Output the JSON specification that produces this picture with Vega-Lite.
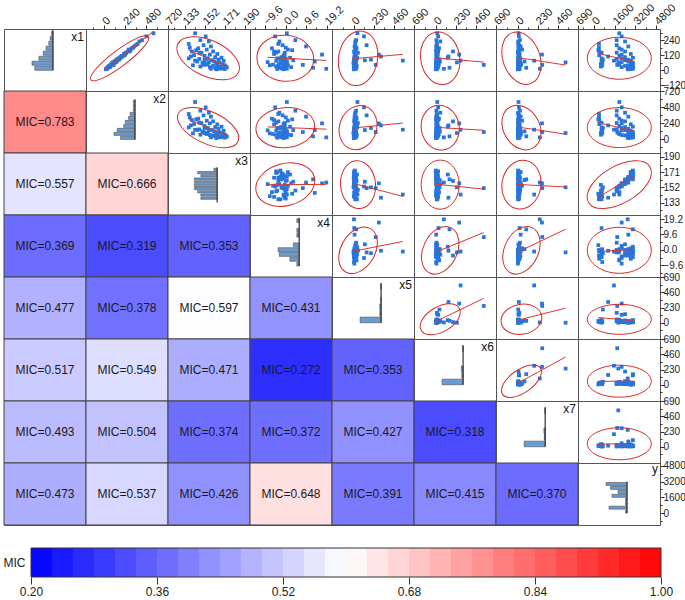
{
"$schema":"https://vega.github.io/schema/vega-lite/v6.json",
"background":"white",
"padding":{"left":3,"top":0,"right":0,"bottom":0},
"config":{"view":{"stroke":"#555","strokeWidth":1},"legend":{"disable":true},
"axis":{"labelFont":"Liberation Sans","labelFontSize":11,"labelColor":"#222","tickColor":"#333","domainColor":"#333","labelFlush":false,"labelOverlap":false,"labelBound":false,"grid":false,"tickSize":4,"labelPadding":2,"domain":false},
"axisRight":{"labelFontSize":10,"labelPadding":-1}},
"datasets":{"obs":[
{"x1":210,"x2":380,"x3":137,"x4":-3.5,"x5":20,"x6":15,"x7":8,"y":400},
{"x1":180,"x2":330,"x3":138,"x4":0,"x5":30,"x6":22,"x7":14,"y":400},
{"x1":150,"x2":290,"x3":140,"x4":-5.5,"x5":10,"x6":30,"x7":10,"y":420},
{"x1":120,"x2":230,"x3":142,"x4":-1,"x5":18,"x6":10,"x7":20,"y":420},
{"x1":95,"x2":180,"x3":137,"x4":-2.5,"x5":40,"x6":20,"x7":12,"y":600},
{"x1":70,"x2":140,"x3":145,"x4":13.6,"x5":8,"x6":35,"x7":24,"y":600},
{"x1":140,"x2":250,"x3":147,"x4":-4.5,"x5":12,"x6":12,"x7":6,"y":600},
{"x1":60,"x2":120,"x3":150,"x4":0.5,"x5":25,"x6":28,"x7":32,"y":650},
{"x1":40,"x2":90,"x3":141,"x4":-7.5,"x5":5,"x6":8,"x7":4,"y":650},
{"x1":110,"x2":210,"x3":139,"x4":-0.5,"x5":314,"x6":148,"x7":16,"y":1100},
{"x1":85,"x2":170,"x3":152,"x4":-2,"x5":200,"x6":45,"x7":8,"y":700},
{"x1":160,"x2":300,"x3":144,"x4":3,"x5":22,"x6":5,"x7":18,"y":350},
{"x1":30,"x2":70,"x3":148,"x4":-4,"x5":35,"x6":25,"x7":10,"y":550},
{"x1":50,"x2":100,"x3":155,"x4":-0.5,"x5":3,"x6":10,"x7":40,"y":550},
{"x1":295,"x2":560,"x3":143,"x4":0.5,"x5":45,"x6":20,"x7":12,"y":1960},
{"x1":270,"x2":480,"x3":153,"x4":-5,"x5":120,"x6":30,"x7":16,"y":2140},
{"x1":240,"x2":430,"x3":148,"x4":4.5,"x5":30,"x6":10,"x7":28,"y":1760},
{"x1":230,"x2":400,"x3":156,"x4":-3,"x5":20,"x6":55,"x7":8,"y":2400},
{"x1":200,"x2":360,"x3":151,"x4":-1.5,"x5":150,"x6":15,"x7":20,"y":1760},
{"x1":190,"x2":340,"x3":158,"x4":9.5,"x5":12,"x6":8,"x7":36,"y":2650},
{"x1":175,"x2":310,"x3":146,"x4":-6.5,"x5":35,"x6":40,"x7":10,"y":1960},
{"x1":165,"x2":280,"x3":154,"x4":1,"x5":22,"x6":18,"x7":52,"y":2140},
{"x1":150,"x2":270,"x3":160,"x4":-3.5,"x5":10,"x6":200,"x7":12,"y":2400},
{"x1":140,"x2":245,"x3":149,"x4":-0.5,"x5":50,"x6":12,"x7":6,"y":1760},
{"x1":130,"x2":225,"x3":164,"x4":-5.5,"x5":18,"x6":25,"x7":24,"y":2840},
{"x1":125,"x2":240,"x3":157,"x4":17,"x5":290,"x6":271,"x7":280,"y":2140},
{"x1":115,"x2":200,"x3":152,"x4":-1,"x5":28,"x6":22,"x7":14,"y":1960},
{"x1":105,"x2":185,"x3":162,"x4":-2,"x5":8,"x6":10,"x7":8,"y":2400},
{"x1":100,"x2":190,"x3":168,"x4":2,"x5":40,"x6":140,"x7":18,"y":3000},
{"x1":95,"x2":170,"x3":155,"x4":-4,"x5":15,"x6":15,"x7":32,"y":2140},
{"x1":90,"x2":150,"x3":147,"x4":0,"x5":22,"x6":32,"x7":6,"y":1760},
{"x1":85,"x2":160,"x3":165,"x4":-2.5,"x5":5,"x6":8,"x7":22,"y":2650},
{"x1":80,"x2":140,"x3":159,"x4":3.5,"x5":130,"x6":20,"x7":10,"y":2400},
{"x1":77,"x2":145,"x3":143,"x4":-1,"x5":564,"x6":287,"x7":190,"y":1550},
{"x1":75,"x2":130,"x3":170,"x4":-4.5,"x5":12,"x6":12,"x7":12,"y":2840},
{"x1":70,"x2":120,"x3":161,"x4":0.5,"x5":30,"x6":50,"x7":80,"y":2650},
{"x1":65,"x2":135,"x3":156,"x4":-8.5,"x5":10,"x6":10,"x7":4,"y":2140},
{"x1":63,"x2":95,"x3":152,"x4":-1.5,"x5":0,"x6":245,"x7":550,"y":1880},
{"x1":60,"x2":110,"x3":166,"x4":-0.5,"x5":20,"x6":28,"x7":16,"y":3000},
{"x1":55,"x2":100,"x3":163,"x4":-3,"x5":18,"x6":5,"x7":26,"y":2840},
{"x1":12,"x2":30,"x3":158,"x4":19,"x5":5,"x6":96,"x7":255,"y":2600},
{"x1":48,"x2":90,"x3":169,"x4":-1.5,"x5":8,"x6":18,"x7":8,"y":3000},
{"x1":45,"x2":80,"x3":154,"x4":-6,"x5":25,"x6":38,"x7":12,"y":1960},
{"x1":43,"x2":110,"x3":151,"x4":8,"x5":254,"x6":552,"x7":283,"y":1800},
{"x1":40,"x2":70,"x3":171,"x4":1,"x5":10,"x6":8,"x7":36,"y":2840},
{"x1":38,"x2":75,"x3":164,"x4":-3.5,"x5":3,"x6":20,"x7":6,"y":2650},
{"x1":35,"x2":60,"x3":160,"x4":0,"x5":35,"x6":12,"x7":18,"y":2400},
{"x1":30,"x2":55,"x3":172,"x4":-4.5,"x5":12,"x6":30,"x7":10,"y":3000},
{"x1":28,"x2":50,"x3":167,"x4":-1,"x5":5,"x6":10,"x7":14,"y":2840},
{"x1":25,"x2":65,"x3":157,"x4":2.5,"x5":22,"x6":15,"x7":20,"y":2140},
{"x1":22,"x2":40,"x3":173,"x4":-2.5,"x5":15,"x6":5,"x7":8,"y":3000},
{"x1":20,"x2":45,"x3":162,"x4":12.8,"x5":30,"x6":160,"x7":100,"y":3000},
{"x1":15,"x2":35,"x3":169,"x4":-2,"x5":8,"x6":22,"x7":4,"y":2840},
{"x1":12,"x2":30,"x3":166,"x4":0.5,"x5":28,"x6":10,"x7":12,"y":3000},
{"x1":10,"x2":25,"x3":171,"x4":-4,"x5":10,"x6":3,"x7":24,"y":2840},
{"x1":8,"x2":20,"x3":163,"x4":-1,"x5":3,"x6":12,"x7":6,"y":2650}
]},
"spacing":20,
"vconcat":[
{"columns":8,"spacing":0,"bounds":"flush","concat":[
{"width":82,"height":62,"data":{"name":"obs"},"title":{"text":"x1","anchor":"end","frame":"group","offset":-15,"fontSize":12,"fontWeight":"normal","font":"Liberation Sans","color":"#111","dx":-2},"layer":[
{"mark":{"type":"bar","color":"#6a9bd1","stroke":"#4d4d4d","strokeWidth":0.6},"encoding":{"y":{"field":"x1","type":"quantitative","bin":{"extent":[0,320],"step":40,"nice":false},"scale":{"domain":[-165,329],"nice":false,"zero":false},"axis":null},"x":{"aggregate":"count","type":"quantitative","scale":{"domain":[-23.6,35],"reverse":true,"nice":false,"zero":false},"axis":null}}},
{"data":{"values":[{}]},"mark":{"type":"rule","color":"#333","strokeWidth":1.2},"encoding":{"x":{"datum":0,"type":"quantitative"},"y":{"datum":0,"type":"quantitative"},"y2":{"datum":320}}}]},
{"width":82,"height":62,"data":{"name":"obs"},"encoding":{"x":{"field":"x2","type":"quantitative","scale":{"domain":[-204,725],"nice":false,"zero":false},"axis":{"orient":"top","values":[-120,0,120,240,360,480,600,720],"format":"d","labelExpr":"abs(datum.value/240-round(datum.value/240))<0.01 ? datum.label : ''","tickSize":{"condition":{"test":"abs(datum.value/240-round(datum.value/240))<0.01","value":4},"value":2},"labelAngle":-45,"labelAlign":"left","labelBaseline":"middle","title":null}},"y":{"field":"x1","type":"quantitative","scale":{"domain":[-165,329],"nice":false,"zero":false},"axis":null}},"layer":[
{"mark":{"type":"point","shape":"square","filled":true,"size":14,"color":"#2875dc","opacity":1},"encoding":{}},
{"transform":[{"regression":"x1","on":"x2"}],"mark":{"type":"line","color":"#e0352b","strokeWidth":1},"encoding":{}},
{"mark":{"type":"point","shape":"M 1 0 C 1 0.123 0.5523 0.222 0 0.222 C -0.5523 0.222 -1 0.123 -1 0 C -1 -0.123 -0.5523 -0.222 0 -0.222 C 0.5523 -0.222 1 -0.123 1 0 Z","filled":false,"color":"#d42a2a","strokeWidth":1,"size":5184,"angle":-37,"opacity":1},"encoding":{"x":{"aggregate":"mean","field":"x2","type":"quantitative","axis":{"orient":"top","values":[-120,0,120,240,360,480,600,720],"format":"d","labelExpr":"abs(datum.value/240-round(datum.value/240))<0.01 ? datum.label : ''","tickSize":{"condition":{"test":"abs(datum.value/240-round(datum.value/240))<0.01","value":4},"value":2},"labelAngle":-45,"labelAlign":"left","labelBaseline":"middle","title":null}},"y":{"aggregate":"mean","field":"x1","type":"quantitative","axis":null}}}]},
{"width":82,"height":62,"data":{"name":"obs"},"encoding":{"x":{"field":"x3","type":"quantitative","scale":{"domain":[117.4,194.9],"nice":false,"zero":false},"axis":{"orient":"top","values":[123.5,133,142.5,152,161.5,171,180.5,190],"format":"d","labelExpr":"abs((datum.value-133)/19-round((datum.value-133)/19))<0.01 ? datum.label : ''","tickSize":{"condition":{"test":"abs((datum.value-133)/19-round((datum.value-133)/19))<0.01","value":4},"value":2},"labelAngle":-45,"labelAlign":"left","labelBaseline":"middle","title":null}},"y":{"field":"x1","type":"quantitative","scale":{"domain":[-165,329],"nice":false,"zero":false},"axis":null}},"layer":[
{"mark":{"type":"point","shape":"square","filled":true,"size":14,"color":"#2875dc","opacity":1},"encoding":{}},
{"transform":[{"regression":"x1","on":"x3"}],"mark":{"type":"line","color":"#e0352b","strokeWidth":1},"encoding":{}},
{"mark":{"type":"point","shape":"M 1 0 C 1 0.297 0.5523 0.537 0 0.537 C -0.5523 0.537 -1 0.297 -1 0 C -1 -0.297 -0.5523 -0.537 0 -0.537 C 0.5523 -0.537 1 -0.297 1 0 Z","filled":false,"color":"#d42a2a","strokeWidth":1,"size":4489,"angle":25,"opacity":1},"encoding":{"x":{"aggregate":"mean","field":"x3","type":"quantitative","axis":{"orient":"top","values":[123.5,133,142.5,152,161.5,171,180.5,190],"format":"d","labelExpr":"abs((datum.value-133)/19-round((datum.value-133)/19))<0.01 ? datum.label : ''","tickSize":{"condition":{"test":"abs((datum.value-133)/19-round((datum.value-133)/19))<0.01","value":4},"value":2},"labelAngle":-45,"labelAlign":"left","labelBaseline":"middle","title":null}},"y":{"aggregate":"mean","field":"x1","type":"quantitative","axis":null}}}]},
{"width":82,"height":62,"data":{"name":"obs"},"encoding":{"x":{"field":"x4","type":"quantitative","scale":{"domain":[-16.8,21.7],"nice":false,"zero":false},"axis":{"orient":"top","values":[-14.4,-9.6,-4.8,0,4.8,9.6,14.4,19.2],"format":".1f","labelExpr":"abs(datum.value/9.6-round(datum.value/9.6))<0.01 ? datum.label : ''","tickSize":{"condition":{"test":"abs(datum.value/9.6-round(datum.value/9.6))<0.01","value":4},"value":2},"labelAngle":-45,"labelAlign":"left","labelBaseline":"middle","title":null}},"y":{"field":"x1","type":"quantitative","scale":{"domain":[-165,329],"nice":false,"zero":false},"axis":null}},"layer":[
{"mark":{"type":"point","shape":"square","filled":true,"size":14,"color":"#2875dc","opacity":1},"encoding":{}},
{"transform":[{"regression":"x1","on":"x4"}],"mark":{"type":"line","color":"#e0352b","strokeWidth":1},"encoding":{}},
{"mark":{"type":"point","shape":"M 1 0 C 1 0.446 0.5523 0.807 0 0.807 C -0.5523 0.807 -1 0.446 -1 0 C -1 -0.446 -0.5523 -0.807 0 -0.807 C 0.5523 -0.807 1 -0.446 1 0 Z","filled":false,"color":"#d42a2a","strokeWidth":1,"size":3249,"angle":5,"opacity":1},"encoding":{"x":{"aggregate":"mean","field":"x4","type":"quantitative","axis":{"orient":"top","values":[-14.4,-9.6,-4.8,0,4.8,9.6,14.4,19.2],"format":".1f","labelExpr":"abs(datum.value/9.6-round(datum.value/9.6))<0.01 ? datum.label : ''","tickSize":{"condition":{"test":"abs(datum.value/9.6-round(datum.value/9.6))<0.01","value":4},"value":2},"labelAngle":-45,"labelAlign":"left","labelBaseline":"middle","title":null}},"y":{"aggregate":"mean","field":"x1","type":"quantitative","axis":null}}}]},
{"width":82,"height":62,"data":{"name":"obs"},"encoding":{"x":{"field":"x5","type":"quantitative","scale":{"domain":[-246,692],"nice":false,"zero":false},"axis":{"orient":"top","values":[-115,0,115,230,345,460,575,690],"format":"d","labelExpr":"abs(datum.value/230-round(datum.value/230))<0.01 ? datum.label : ''","tickSize":{"condition":{"test":"abs(datum.value/230-round(datum.value/230))<0.01","value":4},"value":2},"labelAngle":-45,"labelAlign":"left","labelBaseline":"middle","title":null}},"y":{"field":"x1","type":"quantitative","scale":{"domain":[-165,329],"nice":false,"zero":false},"axis":null}},"layer":[
{"mark":{"type":"point","shape":"square","filled":true,"size":14,"color":"#2875dc","opacity":1},"encoding":{}},
{"transform":[{"regression":"x1","on":"x5"}],"mark":{"type":"line","color":"#e0352b","strokeWidth":1},"encoding":{}},
{"mark":{"type":"point","shape":"M 1 0 C 1 0.392 0.5523 0.709 0 0.709 C -0.5523 0.709 -1 0.392 -1 0 C -1 -0.392 -0.5523 -0.709 0 -0.709 C 0.5523 -0.709 1 -0.392 1 0 Z","filled":false,"color":"#d42a2a","strokeWidth":1,"size":3025,"angle":-80,"opacity":1},"encoding":{"x":{"aggregate":"mean","field":"x5","type":"quantitative","axis":{"orient":"top","values":[-115,0,115,230,345,460,575,690],"format":"d","labelExpr":"abs(datum.value/230-round(datum.value/230))<0.01 ? datum.label : ''","tickSize":{"condition":{"test":"abs(datum.value/230-round(datum.value/230))<0.01","value":4},"value":2},"labelAngle":-45,"labelAlign":"left","labelBaseline":"middle","title":null}},"y":{"aggregate":"mean","field":"x1","type":"quantitative","axis":null}}}]},
{"width":82,"height":62,"data":{"name":"obs"},"encoding":{"x":{"field":"x6","type":"quantitative","scale":{"domain":[-246,692],"nice":false,"zero":false},"axis":{"orient":"top","values":[-115,0,115,230,345,460,575,690],"format":"d","labelExpr":"abs(datum.value/230-round(datum.value/230))<0.01 ? datum.label : ''","tickSize":{"condition":{"test":"abs(datum.value/230-round(datum.value/230))<0.01","value":4},"value":2},"labelAngle":-45,"labelAlign":"left","labelBaseline":"middle","title":null}},"y":{"field":"x1","type":"quantitative","scale":{"domain":[-165,329],"nice":false,"zero":false},"axis":null}},"layer":[
{"mark":{"type":"point","shape":"square","filled":true,"size":14,"color":"#2875dc","opacity":1},"encoding":{}},
{"transform":[{"regression":"x1","on":"x6"}],"mark":{"type":"line","color":"#e0352b","strokeWidth":1},"encoding":{}},
{"mark":{"type":"point","shape":"M 1 0 C 1 0.406 0.5523 0.736 0 0.736 C -0.5523 0.736 -1 0.406 -1 0 C -1 -0.406 -0.5523 -0.736 0 -0.736 C 0.5523 -0.736 1 -0.406 1 0 Z","filled":false,"color":"#d42a2a","strokeWidth":1,"size":2809,"angle":-100,"opacity":1},"encoding":{"x":{"aggregate":"mean","field":"x6","type":"quantitative","axis":{"orient":"top","values":[-115,0,115,230,345,460,575,690],"format":"d","labelExpr":"abs(datum.value/230-round(datum.value/230))<0.01 ? datum.label : ''","tickSize":{"condition":{"test":"abs(datum.value/230-round(datum.value/230))<0.01","value":4},"value":2},"labelAngle":-45,"labelAlign":"left","labelBaseline":"middle","title":null}},"y":{"aggregate":"mean","field":"x1","type":"quantitative","axis":null}}}]},
{"width":82,"height":62,"data":{"name":"obs"},"encoding":{"x":{"field":"x7","type":"quantitative","scale":{"domain":[-246,692],"nice":false,"zero":false},"axis":{"orient":"top","values":[-115,0,115,230,345,460,575,690],"format":"d","labelExpr":"abs(datum.value/230-round(datum.value/230))<0.01 ? datum.label : ''","tickSize":{"condition":{"test":"abs(datum.value/230-round(datum.value/230))<0.01","value":4},"value":2},"labelAngle":-45,"labelAlign":"left","labelBaseline":"middle","title":null}},"y":{"field":"x1","type":"quantitative","scale":{"domain":[-165,329],"nice":false,"zero":false},"axis":null}},"layer":[
{"mark":{"type":"point","shape":"square","filled":true,"size":14,"color":"#2875dc","opacity":1},"encoding":{}},
{"transform":[{"regression":"x1","on":"x7"}],"mark":{"type":"line","color":"#e0352b","strokeWidth":1},"encoding":{}},
{"mark":{"type":"point","shape":"M 1 0 C 1 0.378 0.5523 0.685 0 0.685 C -0.5523 0.685 -1 0.378 -1 0 C -1 -0.378 -0.5523 -0.685 0 -0.685 C 0.5523 -0.685 1 -0.378 1 0 Z","filled":false,"color":"#d42a2a","strokeWidth":1,"size":2916,"angle":-110,"opacity":1},"encoding":{"x":{"aggregate":"mean","field":"x7","type":"quantitative","axis":{"orient":"top","values":[-115,0,115,230,345,460,575,690],"format":"d","labelExpr":"abs(datum.value/230-round(datum.value/230))<0.01 ? datum.label : ''","tickSize":{"condition":{"test":"abs(datum.value/230-round(datum.value/230))<0.01","value":4},"value":2},"labelAngle":-45,"labelAlign":"left","labelBaseline":"middle","title":null}},"y":{"aggregate":"mean","field":"x1","type":"quantitative","axis":null}}}]},
{"width":82,"height":62,"data":{"name":"obs"},"encoding":{"x":{"field":"y","type":"quantitative","scale":{"domain":[-1208,5079],"nice":false,"zero":false},"axis":{"orient":"top","values":[-800,0,800,1600,2400,3200,4000,4800],"format":"d","labelExpr":"abs(datum.value/1600-round(datum.value/1600))<0.01 ? datum.label : ''","tickSize":{"condition":{"test":"abs(datum.value/1600-round(datum.value/1600))<0.01","value":4},"value":2},"labelAngle":-45,"labelAlign":"left","labelBaseline":"middle","title":null}},"y":{"field":"x1","type":"quantitative","scale":{"domain":[-165,329],"nice":false,"zero":false},"axis":{"orient":"right","values":[-120,-60,0,60,120,180,240,300],"format":"d","labelExpr":"abs(datum.value/120-round(datum.value/120))<0.01 ? datum.label : ''","tickSize":{"condition":{"test":"abs(datum.value/120-round(datum.value/120))<0.01","value":4},"value":2},"labelAlign":"left","labelBaseline":"middle","title":null}}},"layer":[
{"mark":{"type":"point","shape":"square","filled":true,"size":14,"color":"#2875dc","opacity":1},"encoding":{}},
{"transform":[{"regression":"x1","on":"y"}],"mark":{"type":"line","color":"#e0352b","strokeWidth":1},"encoding":{}},
{"mark":{"type":"point","shape":"M 1 0 C 1 0.362 0.5523 0.656 0 0.656 C -0.5523 0.656 -1 0.362 -1 0 C -1 -0.362 -0.5523 -0.656 0 -0.656 C 0.5523 -0.656 1 -0.362 1 0 Z","filled":false,"color":"#d42a2a","strokeWidth":1,"size":4096,"angle":0,"opacity":1},"encoding":{"x":{"aggregate":"mean","field":"y","type":"quantitative","axis":{"orient":"top","values":[-800,0,800,1600,2400,3200,4000,4800],"format":"d","labelExpr":"abs(datum.value/1600-round(datum.value/1600))<0.01 ? datum.label : ''","tickSize":{"condition":{"test":"abs(datum.value/1600-round(datum.value/1600))<0.01","value":4},"value":2},"labelAngle":-45,"labelAlign":"left","labelBaseline":"middle","title":null}},"y":{"aggregate":"mean","field":"x1","type":"quantitative","axis":{"orient":"right","values":[-120,-60,0,60,120,180,240,300],"format":"d","labelExpr":"abs(datum.value/120-round(datum.value/120))<0.01 ? datum.label : ''","tickSize":{"condition":{"test":"abs(datum.value/120-round(datum.value/120))<0.01","value":4},"value":2},"labelAlign":"left","labelBaseline":"middle","title":null}}}}]},

{"width":82,"height":62,"data":{"values":[{"mic":0.783,"label":"MIC=0.783"}]},"layer":[{"mark":{"type":"rect","stroke":"#444","strokeWidth":1},"encoding":{"x":{"datum":0,"type":"quantitative","scale":{"domain":[0,1],"nice":false},"axis":null},"x2":{"datum":1},"y":{"datum":0,"type":"quantitative","scale":{"domain":[0,1],"nice":false},"axis":null},"y2":{"datum":1},"color":{"field":"mic","type":"quantitative","scale":{"domain":[0.2,0.6,1.0],"range":["#0000ff","#ffffff","#ff0000"],"interpolate":"rgb"},"legend":null}}},{"mark":{"type":"text","font":"Liberation Sans","fontSize":12,"color":"#1a1a1a"},"encoding":{"x":{"datum":0.5,"type":"quantitative","axis":null},"y":{"datum":0.5,"type":"quantitative","axis":null},"text":{"field":"label"}}}]},
{"width":82,"height":62,"data":{"name":"obs"},"title":{"text":"x2","anchor":"end","frame":"group","offset":-15,"fontSize":12,"fontWeight":"normal","font":"Liberation Sans","color":"#111","dx":-2},"layer":[
{"mark":{"type":"bar","color":"#6a9bd1","stroke":"#4d4d4d","strokeWidth":0.6},"encoding":{"y":{"field":"x2","type":"quantitative","bin":{"extent":[0,600],"step":60,"nice":false},"scale":{"domain":[-204,725],"nice":false,"zero":false},"axis":null},"x":{"aggregate":"count","type":"quantitative","scale":{"domain":[-20.4,30.3],"reverse":true,"nice":false,"zero":false},"axis":null}}},
{"data":{"values":[{}]},"mark":{"type":"rule","color":"#333","strokeWidth":1.2},"encoding":{"x":{"datum":0,"type":"quantitative"},"y":{"datum":0,"type":"quantitative"},"y2":{"datum":600}}}]},
{"width":82,"height":62,"data":{"name":"obs"},"encoding":{"x":{"field":"x3","type":"quantitative","scale":{"domain":[117.4,194.9],"nice":false,"zero":false},"axis":null},"y":{"field":"x2","type":"quantitative","scale":{"domain":[-204,725],"nice":false,"zero":false},"axis":null}},"layer":[
{"mark":{"type":"point","shape":"square","filled":true,"size":14,"color":"#2875dc","opacity":1},"encoding":{}},
{"transform":[{"regression":"x2","on":"x3"}],"mark":{"type":"line","color":"#e0352b","strokeWidth":1},"encoding":{}},
{"mark":{"type":"point","shape":"M 1 0 C 1 0.268 0.5523 0.485 0 0.485 C -0.5523 0.485 -1 0.268 -1 0 C -1 -0.268 -0.5523 -0.485 0 -0.485 C 0.5523 -0.485 1 -0.268 1 0 Z","filled":false,"color":"#d42a2a","strokeWidth":1,"size":4356,"angle":25,"opacity":1},"encoding":{"x":{"aggregate":"mean","field":"x3","type":"quantitative","axis":null},"y":{"aggregate":"mean","field":"x2","type":"quantitative","axis":null}}}]},
{"width":82,"height":62,"data":{"name":"obs"},"encoding":{"x":{"field":"x4","type":"quantitative","scale":{"domain":[-16.8,21.7],"nice":false,"zero":false},"axis":null},"y":{"field":"x2","type":"quantitative","scale":{"domain":[-204,725],"nice":false,"zero":false},"axis":null}},"layer":[
{"mark":{"type":"point","shape":"square","filled":true,"size":14,"color":"#2875dc","opacity":1},"encoding":{}},
{"transform":[{"regression":"x2","on":"x4"}],"mark":{"type":"line","color":"#e0352b","strokeWidth":1},"encoding":{}},
{"mark":{"type":"point","shape":"M 1 0 C 1 0.374 0.5523 0.678 0 0.678 C -0.5523 0.678 -1 0.374 -1 0 C -1 -0.374 -0.5523 -0.678 0 -0.678 C 0.5523 -0.678 1 -0.374 1 0 Z","filled":false,"color":"#d42a2a","strokeWidth":1,"size":3481,"angle":-5,"opacity":1},"encoding":{"x":{"aggregate":"mean","field":"x4","type":"quantitative","axis":null},"y":{"aggregate":"mean","field":"x2","type":"quantitative","axis":null}}}]},
{"width":82,"height":62,"data":{"name":"obs"},"encoding":{"x":{"field":"x5","type":"quantitative","scale":{"domain":[-246,692],"nice":false,"zero":false},"axis":null},"y":{"field":"x2","type":"quantitative","scale":{"domain":[-204,725],"nice":false,"zero":false},"axis":null}},"layer":[
{"mark":{"type":"point","shape":"square","filled":true,"size":14,"color":"#2875dc","opacity":1},"encoding":{}},
{"transform":[{"regression":"x2","on":"x5"}],"mark":{"type":"line","color":"#e0352b","strokeWidth":1},"encoding":{}},
{"mark":{"type":"point","shape":"M 1 0 C 1 0.454 0.5523 0.822 0 0.822 C -0.5523 0.822 -1 0.454 -1 0 C -1 -0.454 -0.5523 -0.822 0 -0.822 C 0.5523 -0.822 1 -0.454 1 0 Z","filled":false,"color":"#d42a2a","strokeWidth":1,"size":2025,"angle":-70,"opacity":1},"encoding":{"x":{"aggregate":"mean","field":"x5","type":"quantitative","axis":null},"y":{"aggregate":"mean","field":"x2","type":"quantitative","axis":null}}}]},
{"width":82,"height":62,"data":{"name":"obs"},"encoding":{"x":{"field":"x6","type":"quantitative","scale":{"domain":[-246,692],"nice":false,"zero":false},"axis":null},"y":{"field":"x2","type":"quantitative","scale":{"domain":[-204,725],"nice":false,"zero":false},"axis":null}},"layer":[
{"mark":{"type":"point","shape":"square","filled":true,"size":14,"color":"#2875dc","opacity":1},"encoding":{}},
{"transform":[{"regression":"x2","on":"x6"}],"mark":{"type":"line","color":"#e0352b","strokeWidth":1},"encoding":{}},
{"mark":{"type":"point","shape":"M 1 0 C 1 0.466 0.5523 0.844 0 0.844 C -0.5523 0.844 -1 0.466 -1 0 C -1 -0.466 -0.5523 -0.844 0 -0.844 C 0.5523 -0.844 1 -0.466 1 0 Z","filled":false,"color":"#d42a2a","strokeWidth":1,"size":2025,"angle":-100,"opacity":1},"encoding":{"x":{"aggregate":"mean","field":"x6","type":"quantitative","axis":null},"y":{"aggregate":"mean","field":"x2","type":"quantitative","axis":null}}}]},
{"width":82,"height":62,"data":{"name":"obs"},"encoding":{"x":{"field":"x7","type":"quantitative","scale":{"domain":[-246,692],"nice":false,"zero":false},"axis":null},"y":{"field":"x2","type":"quantitative","scale":{"domain":[-204,725],"nice":false,"zero":false},"axis":null}},"layer":[
{"mark":{"type":"point","shape":"square","filled":true,"size":14,"color":"#2875dc","opacity":1},"encoding":{}},
{"transform":[{"regression":"x2","on":"x7"}],"mark":{"type":"line","color":"#e0352b","strokeWidth":1},"encoding":{}},
{"mark":{"type":"point","shape":"M 1 0 C 1 0.423 0.5523 0.766 0 0.766 C -0.5523 0.766 -1 0.423 -1 0 C -1 -0.423 -0.5523 -0.766 0 -0.766 C 0.5523 -0.766 1 -0.423 1 0 Z","filled":false,"color":"#d42a2a","strokeWidth":1,"size":2209,"angle":-120,"opacity":1},"encoding":{"x":{"aggregate":"mean","field":"x7","type":"quantitative","axis":null},"y":{"aggregate":"mean","field":"x2","type":"quantitative","axis":null}}}]},
{"width":82,"height":62,"data":{"name":"obs"},"encoding":{"x":{"field":"y","type":"quantitative","scale":{"domain":[-1208,5079],"nice":false,"zero":false},"axis":null},"y":{"field":"x2","type":"quantitative","scale":{"domain":[-204,725],"nice":false,"zero":false},"axis":{"orient":"right","values":[-120,0,120,240,360,480,600,720],"format":"d","labelExpr":"abs(datum.value/240-round(datum.value/240))<0.01 ? datum.label : ''","tickSize":{"condition":{"test":"abs(datum.value/240-round(datum.value/240))<0.01","value":4},"value":2},"labelAlign":"left","labelBaseline":"middle","title":null}}},"layer":[
{"mark":{"type":"point","shape":"square","filled":true,"size":14,"color":"#2875dc","opacity":1},"encoding":{}},
{"transform":[{"regression":"x2","on":"y"}],"mark":{"type":"line","color":"#e0352b","strokeWidth":1},"encoding":{}},
{"mark":{"type":"point","shape":"M 1 0 C 1 0.345 0.5523 0.625 0 0.625 C -0.5523 0.625 -1 0.345 -1 0 C -1 -0.345 -0.5523 -0.625 0 -0.625 C 0.5523 -0.625 1 -0.345 1 0 Z","filled":false,"color":"#d42a2a","strokeWidth":1,"size":4096,"angle":0,"opacity":1},"encoding":{"x":{"aggregate":"mean","field":"y","type":"quantitative","axis":null},"y":{"aggregate":"mean","field":"x2","type":"quantitative","axis":{"orient":"right","values":[-120,0,120,240,360,480,600,720],"format":"d","labelExpr":"abs(datum.value/240-round(datum.value/240))<0.01 ? datum.label : ''","tickSize":{"condition":{"test":"abs(datum.value/240-round(datum.value/240))<0.01","value":4},"value":2},"labelAlign":"left","labelBaseline":"middle","title":null}}}}]},

{"width":82,"height":62,"data":{"values":[{"mic":0.557,"label":"MIC=0.557"}]},"layer":[{"mark":{"type":"rect","stroke":"#444","strokeWidth":1},"encoding":{"x":{"datum":0,"type":"quantitative","scale":{"domain":[0,1],"nice":false},"axis":null},"x2":{"datum":1},"y":{"datum":0,"type":"quantitative","scale":{"domain":[0,1],"nice":false},"axis":null},"y2":{"datum":1},"color":{"field":"mic","type":"quantitative","scale":{"domain":[0.2,0.6,1.0],"range":["#0000ff","#ffffff","#ff0000"],"interpolate":"rgb"},"legend":null}}},{"mark":{"type":"text","font":"Liberation Sans","fontSize":12,"color":"#1a1a1a"},"encoding":{"x":{"datum":0.5,"type":"quantitative","axis":null},"y":{"datum":0.5,"type":"quantitative","axis":null},"text":{"field":"label"}}}]},
{"width":82,"height":62,"data":{"values":[{"mic":0.666,"label":"MIC=0.666"}]},"layer":[{"mark":{"type":"rect","stroke":"#444","strokeWidth":1},"encoding":{"x":{"datum":0,"type":"quantitative","scale":{"domain":[0,1],"nice":false},"axis":null},"x2":{"datum":1},"y":{"datum":0,"type":"quantitative","scale":{"domain":[0,1],"nice":false},"axis":null},"y2":{"datum":1},"color":{"field":"mic","type":"quantitative","scale":{"domain":[0.2,0.6,1.0],"range":["#0000ff","#ffffff","#ff0000"],"interpolate":"rgb"},"legend":null}}},{"mark":{"type":"text","font":"Liberation Sans","fontSize":12,"color":"#1a1a1a"},"encoding":{"x":{"datum":0.5,"type":"quantitative","axis":null},"y":{"datum":0.5,"type":"quantitative","axis":null},"text":{"field":"label"}}}]},
{"width":82,"height":62,"data":{"name":"obs"},"title":{"text":"x3","anchor":"end","frame":"group","offset":-15,"fontSize":12,"fontWeight":"normal","font":"Liberation Sans","color":"#111","dx":-2},"layer":[
{"mark":{"type":"bar","color":"#6a9bd1","stroke":"#4d4d4d","strokeWidth":0.6},"encoding":{"y":{"field":"x3","type":"quantitative","bin":{"extent":[133,177],"step":4,"nice":false},"scale":{"domain":[117.4,194.9],"nice":false,"zero":false},"axis":null},"x":{"aggregate":"count","type":"quantitative","scale":{"domain":[-10.1,15.1],"reverse":true,"nice":false,"zero":false},"axis":null}}},
{"data":{"values":[{}]},"mark":{"type":"rule","color":"#333","strokeWidth":1.2},"encoding":{"x":{"datum":0,"type":"quantitative"},"y":{"datum":133,"type":"quantitative"},"y2":{"datum":177}}}]},
{"width":82,"height":62,"data":{"name":"obs"},"encoding":{"x":{"field":"x4","type":"quantitative","scale":{"domain":[-16.8,21.7],"nice":false,"zero":false},"axis":null},"y":{"field":"x3","type":"quantitative","scale":{"domain":[117.4,194.9],"nice":false,"zero":false},"axis":null}},"layer":[
{"mark":{"type":"point","shape":"square","filled":true,"size":14,"color":"#2875dc","opacity":1},"encoding":{}},
{"transform":[{"regression":"x3","on":"x4"}],"mark":{"type":"line","color":"#e0352b","strokeWidth":1},"encoding":{}},
{"mark":{"type":"point","shape":"M 1 0 C 1 0.387 0.5523 0.7 0 0.7 C -0.5523 0.7 -1 0.387 -1 0 C -1 -0.387 -0.5523 -0.7 0 -0.7 C 0.5523 -0.7 1 -0.387 1 0 Z","filled":false,"color":"#d42a2a","strokeWidth":1,"size":3600,"angle":-15,"opacity":1},"encoding":{"x":{"aggregate":"mean","field":"x4","type":"quantitative","axis":null},"y":{"aggregate":"mean","field":"x3","type":"quantitative","axis":null}}}]},
{"width":82,"height":62,"data":{"name":"obs"},"encoding":{"x":{"field":"x5","type":"quantitative","scale":{"domain":[-246,692],"nice":false,"zero":false},"axis":null},"y":{"field":"x3","type":"quantitative","scale":{"domain":[117.4,194.9],"nice":false,"zero":false},"axis":null}},"layer":[
{"mark":{"type":"point","shape":"square","filled":true,"size":14,"color":"#2875dc","opacity":1},"encoding":{}},
{"transform":[{"regression":"x3","on":"x5"}],"mark":{"type":"line","color":"#e0352b","strokeWidth":1},"encoding":{}},
{"mark":{"type":"point","shape":"M 1 0 C 1 0.403 0.5523 0.729 0 0.729 C -0.5523 0.729 -1 0.403 -1 0 C -1 -0.403 -0.5523 -0.729 0 -0.729 C 0.5523 -0.729 1 -0.403 1 0 Z","filled":false,"color":"#d42a2a","strokeWidth":1,"size":2304,"angle":-95,"opacity":1},"encoding":{"x":{"aggregate":"mean","field":"x5","type":"quantitative","axis":null},"y":{"aggregate":"mean","field":"x3","type":"quantitative","axis":null}}}]},
{"width":82,"height":62,"data":{"name":"obs"},"encoding":{"x":{"field":"x6","type":"quantitative","scale":{"domain":[-246,692],"nice":false,"zero":false},"axis":null},"y":{"field":"x3","type":"quantitative","scale":{"domain":[117.4,194.9],"nice":false,"zero":false},"axis":null}},"layer":[
{"mark":{"type":"point","shape":"square","filled":true,"size":14,"color":"#2875dc","opacity":1},"encoding":{}},
{"transform":[{"regression":"x3","on":"x6"}],"mark":{"type":"line","color":"#e0352b","strokeWidth":1},"encoding":{}},
{"mark":{"type":"point","shape":"M 1 0 C 1 0.429 0.5523 0.776 0 0.776 C -0.5523 0.776 -1 0.429 -1 0 C -1 -0.429 -0.5523 -0.776 0 -0.776 C 0.5523 -0.776 1 -0.429 1 0 Z","filled":false,"color":"#d42a2a","strokeWidth":1,"size":2401,"angle":-90,"opacity":1},"encoding":{"x":{"aggregate":"mean","field":"x6","type":"quantitative","axis":null},"y":{"aggregate":"mean","field":"x3","type":"quantitative","axis":null}}}]},
{"width":82,"height":62,"data":{"name":"obs"},"encoding":{"x":{"field":"x7","type":"quantitative","scale":{"domain":[-246,692],"nice":false,"zero":false},"axis":null},"y":{"field":"x3","type":"quantitative","scale":{"domain":[117.4,194.9],"nice":false,"zero":false},"axis":null}},"layer":[
{"mark":{"type":"point","shape":"square","filled":true,"size":14,"color":"#2875dc","opacity":1},"encoding":{}},
{"transform":[{"regression":"x3","on":"x7"}],"mark":{"type":"line","color":"#e0352b","strokeWidth":1},"encoding":{}},
{"mark":{"type":"point","shape":"M 1 0 C 1 0.44 0.5523 0.796 0 0.796 C -0.5523 0.796 -1 0.44 -1 0 C -1 -0.44 -0.5523 -0.796 0 -0.796 C 0.5523 -0.796 1 -0.44 1 0 Z","filled":false,"color":"#d42a2a","strokeWidth":1,"size":2401,"angle":-80,"opacity":1},"encoding":{"x":{"aggregate":"mean","field":"x7","type":"quantitative","axis":null},"y":{"aggregate":"mean","field":"x3","type":"quantitative","axis":null}}}]},
{"width":82,"height":62,"data":{"name":"obs"},"encoding":{"x":{"field":"y","type":"quantitative","scale":{"domain":[-1208,5079],"nice":false,"zero":false},"axis":null},"y":{"field":"x3","type":"quantitative","scale":{"domain":[117.4,194.9],"nice":false,"zero":false},"axis":{"orient":"right","values":[123.5,133,142.5,152,161.5,171,180.5,190],"format":"d","labelExpr":"abs((datum.value-133)/19-round((datum.value-133)/19))<0.01 ? datum.label : ''","tickSize":{"condition":{"test":"abs((datum.value-133)/19-round((datum.value-133)/19))<0.01","value":4},"value":2},"labelAlign":"left","labelBaseline":"middle","title":null}}},"layer":[
{"mark":{"type":"point","shape":"square","filled":true,"size":14,"color":"#2875dc","opacity":1},"encoding":{}},
{"transform":[{"regression":"x3","on":"y"}],"mark":{"type":"line","color":"#e0352b","strokeWidth":1},"encoding":{}},
{"mark":{"type":"point","shape":"M 1 0 C 1 0.288 0.5523 0.521 0 0.521 C -0.5523 0.521 -1 0.288 -1 0 C -1 -0.288 -0.5523 -0.521 0 -0.521 C 0.5523 -0.521 1 -0.288 1 0 Z","filled":false,"color":"#d42a2a","strokeWidth":1,"size":5041,"angle":-30,"opacity":1},"encoding":{"x":{"aggregate":"mean","field":"y","type":"quantitative","axis":null},"y":{"aggregate":"mean","field":"x3","type":"quantitative","axis":{"orient":"right","values":[123.5,133,142.5,152,161.5,171,180.5,190],"format":"d","labelExpr":"abs((datum.value-133)/19-round((datum.value-133)/19))<0.01 ? datum.label : ''","tickSize":{"condition":{"test":"abs((datum.value-133)/19-round((datum.value-133)/19))<0.01","value":4},"value":2},"labelAlign":"left","labelBaseline":"middle","title":null}}}}]},

{"width":82,"height":62,"data":{"values":[{"mic":0.369,"label":"MIC=0.369"}]},"layer":[{"mark":{"type":"rect","stroke":"#444","strokeWidth":1},"encoding":{"x":{"datum":0,"type":"quantitative","scale":{"domain":[0,1],"nice":false},"axis":null},"x2":{"datum":1},"y":{"datum":0,"type":"quantitative","scale":{"domain":[0,1],"nice":false},"axis":null},"y2":{"datum":1},"color":{"field":"mic","type":"quantitative","scale":{"domain":[0.2,0.6,1.0],"range":["#0000ff","#ffffff","#ff0000"],"interpolate":"rgb"},"legend":null}}},{"mark":{"type":"text","font":"Liberation Sans","fontSize":12,"color":"#1a1a1a"},"encoding":{"x":{"datum":0.5,"type":"quantitative","axis":null},"y":{"datum":0.5,"type":"quantitative","axis":null},"text":{"field":"label"}}}]},
{"width":82,"height":62,"data":{"values":[{"mic":0.319,"label":"MIC=0.319"}]},"layer":[{"mark":{"type":"rect","stroke":"#444","strokeWidth":1},"encoding":{"x":{"datum":0,"type":"quantitative","scale":{"domain":[0,1],"nice":false},"axis":null},"x2":{"datum":1},"y":{"datum":0,"type":"quantitative","scale":{"domain":[0,1],"nice":false},"axis":null},"y2":{"datum":1},"color":{"field":"mic","type":"quantitative","scale":{"domain":[0.2,0.6,1.0],"range":["#0000ff","#ffffff","#ff0000"],"interpolate":"rgb"},"legend":null}}},{"mark":{"type":"text","font":"Liberation Sans","fontSize":12,"color":"#1a1a1a"},"encoding":{"x":{"datum":0.5,"type":"quantitative","axis":null},"y":{"datum":0.5,"type":"quantitative","axis":null},"text":{"field":"label"}}}]},
{"width":82,"height":62,"data":{"values":[{"mic":0.353,"label":"MIC=0.353"}]},"layer":[{"mark":{"type":"rect","stroke":"#444","strokeWidth":1},"encoding":{"x":{"datum":0,"type":"quantitative","scale":{"domain":[0,1],"nice":false},"axis":null},"x2":{"datum":1},"y":{"datum":0,"type":"quantitative","scale":{"domain":[0,1],"nice":false},"axis":null},"y2":{"datum":1},"color":{"field":"mic","type":"quantitative","scale":{"domain":[0.2,0.6,1.0],"range":["#0000ff","#ffffff","#ff0000"],"interpolate":"rgb"},"legend":null}}},{"mark":{"type":"text","font":"Liberation Sans","fontSize":12,"color":"#1a1a1a"},"encoding":{"x":{"datum":0.5,"type":"quantitative","axis":null},"y":{"datum":0.5,"type":"quantitative","axis":null},"text":{"field":"label"}}}]},
{"width":82,"height":62,"data":{"name":"obs"},"title":{"text":"x4","anchor":"end","frame":"group","offset":-15,"fontSize":12,"fontWeight":"normal","font":"Liberation Sans","color":"#111","dx":-2},"layer":[
{"mark":{"type":"bar","color":"#6a9bd1","stroke":"#4d4d4d","strokeWidth":0.6},"encoding":{"y":{"field":"x4","type":"quantitative","bin":{"extent":[-10,20],"step":3,"nice":false},"scale":{"domain":[-16.8,21.7],"nice":false,"zero":false},"axis":null},"x":{"aggregate":"count","type":"quantitative","scale":{"domain":[-28,42],"reverse":true,"nice":false,"zero":false},"axis":null}}},
{"data":{"values":[{}]},"mark":{"type":"rule","color":"#333","strokeWidth":1.2},"encoding":{"x":{"datum":0,"type":"quantitative"},"y":{"datum":-10,"type":"quantitative"},"y2":{"datum":20}}}]},
{"width":82,"height":62,"data":{"name":"obs"},"encoding":{"x":{"field":"x5","type":"quantitative","scale":{"domain":[-246,692],"nice":false,"zero":false},"axis":null},"y":{"field":"x4","type":"quantitative","scale":{"domain":[-16.8,21.7],"nice":false,"zero":false},"axis":null}},"layer":[
{"mark":{"type":"point","shape":"square","filled":true,"size":14,"color":"#2875dc","opacity":1},"encoding":{}},
{"transform":[{"regression":"x4","on":"x5"}],"mark":{"type":"line","color":"#e0352b","strokeWidth":1},"encoding":{}},
{"mark":{"type":"point","shape":"M 1 0 C 1 0.376 0.5523 0.68 0 0.68 C -0.5523 0.68 -1 0.376 -1 0 C -1 -0.376 -0.5523 -0.68 0 -0.68 C 0.5523 -0.68 1 -0.376 1 0 Z","filled":false,"color":"#d42a2a","strokeWidth":1,"size":2500,"angle":-60,"opacity":1},"encoding":{"x":{"aggregate":"mean","field":"x5","type":"quantitative","axis":null},"y":{"aggregate":"mean","field":"x4","type":"quantitative","axis":null}}}]},
{"width":82,"height":62,"data":{"name":"obs"},"encoding":{"x":{"field":"x6","type":"quantitative","scale":{"domain":[-246,692],"nice":false,"zero":false},"axis":null},"y":{"field":"x4","type":"quantitative","scale":{"domain":[-16.8,21.7],"nice":false,"zero":false},"axis":null}},"layer":[
{"mark":{"type":"point","shape":"square","filled":true,"size":14,"color":"#2875dc","opacity":1},"encoding":{}},
{"transform":[{"regression":"x4","on":"x6"}],"mark":{"type":"line","color":"#e0352b","strokeWidth":1},"encoding":{}},
{"mark":{"type":"point","shape":"M 1 0 C 1 0.376 0.5523 0.68 0 0.68 C -0.5523 0.68 -1 0.376 -1 0 C -1 -0.376 -0.5523 -0.68 0 -0.68 C 0.5523 -0.68 1 -0.376 1 0 Z","filled":false,"color":"#d42a2a","strokeWidth":1,"size":2500,"angle":-65,"opacity":1},"encoding":{"x":{"aggregate":"mean","field":"x6","type":"quantitative","axis":null},"y":{"aggregate":"mean","field":"x4","type":"quantitative","axis":null}}}]},
{"width":82,"height":62,"data":{"name":"obs"},"encoding":{"x":{"field":"x7","type":"quantitative","scale":{"domain":[-246,692],"nice":false,"zero":false},"axis":null},"y":{"field":"x4","type":"quantitative","scale":{"domain":[-16.8,21.7],"nice":false,"zero":false},"axis":null}},"layer":[
{"mark":{"type":"point","shape":"square","filled":true,"size":14,"color":"#2875dc","opacity":1},"encoding":{}},
{"transform":[{"regression":"x4","on":"x7"}],"mark":{"type":"line","color":"#e0352b","strokeWidth":1},"encoding":{}},
{"mark":{"type":"point","shape":"M 1 0 C 1 0.376 0.5523 0.68 0 0.68 C -0.5523 0.68 -1 0.376 -1 0 C -1 -0.376 -0.5523 -0.68 0 -0.68 C 0.5523 -0.68 1 -0.376 1 0 Z","filled":false,"color":"#d42a2a","strokeWidth":1,"size":2500,"angle":-65,"opacity":1},"encoding":{"x":{"aggregate":"mean","field":"x7","type":"quantitative","axis":null},"y":{"aggregate":"mean","field":"x4","type":"quantitative","axis":null}}}]},
{"width":82,"height":62,"data":{"name":"obs"},"encoding":{"x":{"field":"y","type":"quantitative","scale":{"domain":[-1208,5079],"nice":false,"zero":false},"axis":null},"y":{"field":"x4","type":"quantitative","scale":{"domain":[-16.8,21.7],"nice":false,"zero":false},"axis":{"orient":"right","values":[-14.4,-9.6,-4.8,0,4.8,9.6,14.4,19.2],"format":".1f","labelExpr":"abs(datum.value/9.6-round(datum.value/9.6))<0.01 ? datum.label : ''","tickSize":{"condition":{"test":"abs(datum.value/9.6-round(datum.value/9.6))<0.01","value":4},"value":2},"labelAlign":"left","labelBaseline":"middle","title":null}}},"layer":[
{"mark":{"type":"point","shape":"square","filled":true,"size":14,"color":"#2875dc","opacity":1},"encoding":{}},
{"transform":[{"regression":"x4","on":"y"}],"mark":{"type":"line","color":"#e0352b","strokeWidth":1},"encoding":{}},
{"mark":{"type":"point","shape":"M 1 0 C 1 0.397 0.5523 0.719 0 0.719 C -0.5523 0.719 -1 0.397 -1 0 C -1 -0.397 -0.5523 -0.719 0 -0.719 C 0.5523 -0.719 1 -0.397 1 0 Z","filled":false,"color":"#d42a2a","strokeWidth":1,"size":4096,"angle":0,"opacity":1},"encoding":{"x":{"aggregate":"mean","field":"y","type":"quantitative","axis":null},"y":{"aggregate":"mean","field":"x4","type":"quantitative","axis":{"orient":"right","values":[-14.4,-9.6,-4.8,0,4.8,9.6,14.4,19.2],"format":".1f","labelExpr":"abs(datum.value/9.6-round(datum.value/9.6))<0.01 ? datum.label : ''","tickSize":{"condition":{"test":"abs(datum.value/9.6-round(datum.value/9.6))<0.01","value":4},"value":2},"labelAlign":"left","labelBaseline":"middle","title":null}}}}]},

{"width":82,"height":62,"data":{"values":[{"mic":0.477,"label":"MIC=0.477"}]},"layer":[{"mark":{"type":"rect","stroke":"#444","strokeWidth":1},"encoding":{"x":{"datum":0,"type":"quantitative","scale":{"domain":[0,1],"nice":false},"axis":null},"x2":{"datum":1},"y":{"datum":0,"type":"quantitative","scale":{"domain":[0,1],"nice":false},"axis":null},"y2":{"datum":1},"color":{"field":"mic","type":"quantitative","scale":{"domain":[0.2,0.6,1.0],"range":["#0000ff","#ffffff","#ff0000"],"interpolate":"rgb"},"legend":null}}},{"mark":{"type":"text","font":"Liberation Sans","fontSize":12,"color":"#1a1a1a"},"encoding":{"x":{"datum":0.5,"type":"quantitative","axis":null},"y":{"datum":0.5,"type":"quantitative","axis":null},"text":{"field":"label"}}}]},
{"width":82,"height":62,"data":{"values":[{"mic":0.378,"label":"MIC=0.378"}]},"layer":[{"mark":{"type":"rect","stroke":"#444","strokeWidth":1},"encoding":{"x":{"datum":0,"type":"quantitative","scale":{"domain":[0,1],"nice":false},"axis":null},"x2":{"datum":1},"y":{"datum":0,"type":"quantitative","scale":{"domain":[0,1],"nice":false},"axis":null},"y2":{"datum":1},"color":{"field":"mic","type":"quantitative","scale":{"domain":[0.2,0.6,1.0],"range":["#0000ff","#ffffff","#ff0000"],"interpolate":"rgb"},"legend":null}}},{"mark":{"type":"text","font":"Liberation Sans","fontSize":12,"color":"#1a1a1a"},"encoding":{"x":{"datum":0.5,"type":"quantitative","axis":null},"y":{"datum":0.5,"type":"quantitative","axis":null},"text":{"field":"label"}}}]},
{"width":82,"height":62,"data":{"values":[{"mic":0.597,"label":"MIC=0.597"}]},"layer":[{"mark":{"type":"rect","stroke":"#444","strokeWidth":1},"encoding":{"x":{"datum":0,"type":"quantitative","scale":{"domain":[0,1],"nice":false},"axis":null},"x2":{"datum":1},"y":{"datum":0,"type":"quantitative","scale":{"domain":[0,1],"nice":false},"axis":null},"y2":{"datum":1},"color":{"field":"mic","type":"quantitative","scale":{"domain":[0.2,0.6,1.0],"range":["#0000ff","#ffffff","#ff0000"],"interpolate":"rgb"},"legend":null}}},{"mark":{"type":"text","font":"Liberation Sans","fontSize":12,"color":"#1a1a1a"},"encoding":{"x":{"datum":0.5,"type":"quantitative","axis":null},"y":{"datum":0.5,"type":"quantitative","axis":null},"text":{"field":"label"}}}]},
{"width":82,"height":62,"data":{"values":[{"mic":0.431,"label":"MIC=0.431"}]},"layer":[{"mark":{"type":"rect","stroke":"#444","strokeWidth":1},"encoding":{"x":{"datum":0,"type":"quantitative","scale":{"domain":[0,1],"nice":false},"axis":null},"x2":{"datum":1},"y":{"datum":0,"type":"quantitative","scale":{"domain":[0,1],"nice":false},"axis":null},"y2":{"datum":1},"color":{"field":"mic","type":"quantitative","scale":{"domain":[0.2,0.6,1.0],"range":["#0000ff","#ffffff","#ff0000"],"interpolate":"rgb"},"legend":null}}},{"mark":{"type":"text","font":"Liberation Sans","fontSize":12,"color":"#1a1a1a"},"encoding":{"x":{"datum":0.5,"type":"quantitative","axis":null},"y":{"datum":0.5,"type":"quantitative","axis":null},"text":{"field":"label"}}}]},
{"width":82,"height":62,"data":{"name":"obs"},"title":{"text":"x5","anchor":"end","frame":"group","offset":-15,"fontSize":12,"fontWeight":"normal","font":"Liberation Sans","color":"#111","dx":-2},"layer":[
{"mark":{"type":"bar","color":"#6a9bd1","stroke":"#4d4d4d","strokeWidth":0.6},"encoding":{"y":{"field":"x5","type":"quantitative","bin":{"extent":[0,600],"step":100,"nice":false},"scale":{"domain":[-246,692],"nice":false,"zero":false},"axis":null},"x":{"aggregate":"count","type":"quantitative","scale":{"domain":[-75,112],"reverse":true,"nice":false,"zero":false},"axis":null}}},
{"data":{"values":[{}]},"mark":{"type":"rule","color":"#333","strokeWidth":1.2},"encoding":{"x":{"datum":0,"type":"quantitative"},"y":{"datum":0,"type":"quantitative"},"y2":{"datum":600}}}]},
{"width":82,"height":62,"data":{"name":"obs"},"encoding":{"x":{"field":"x6","type":"quantitative","scale":{"domain":[-246,692],"nice":false,"zero":false},"axis":null},"y":{"field":"x5","type":"quantitative","scale":{"domain":[-246,692],"nice":false,"zero":false},"axis":null}},"layer":[
{"mark":{"type":"point","shape":"square","filled":true,"size":14,"color":"#2875dc","opacity":1},"encoding":{}},
{"transform":[{"regression":"x5","on":"x6"}],"mark":{"type":"line","color":"#e0352b","strokeWidth":1},"encoding":{}},
{"mark":{"type":"point","shape":"M 1 0 C 1 0.314 0.5523 0.568 0 0.568 C -0.5523 0.568 -1 0.314 -1 0 C -1 -0.314 -0.5523 -0.568 0 -0.568 C 0.5523 -0.568 1 -0.314 1 0 Z","filled":false,"color":"#d42a2a","strokeWidth":1,"size":1936,"angle":-30,"opacity":1},"encoding":{"x":{"aggregate":"mean","field":"x6","type":"quantitative","axis":null},"y":{"aggregate":"mean","field":"x5","type":"quantitative","axis":null}}}]},
{"width":82,"height":62,"data":{"name":"obs"},"encoding":{"x":{"field":"x7","type":"quantitative","scale":{"domain":[-246,692],"nice":false,"zero":false},"axis":null},"y":{"field":"x5","type":"quantitative","scale":{"domain":[-246,692],"nice":false,"zero":false},"axis":null}},"layer":[
{"mark":{"type":"point","shape":"square","filled":true,"size":14,"color":"#2875dc","opacity":1},"encoding":{}},
{"transform":[{"regression":"x5","on":"x7"}],"mark":{"type":"line","color":"#e0352b","strokeWidth":1},"encoding":{}},
{"mark":{"type":"point","shape":"M 1 0 C 1 0.404 0.5523 0.732 0 0.732 C -0.5523 0.732 -1 0.404 -1 0 C -1 -0.404 -0.5523 -0.732 0 -0.732 C 0.5523 -0.732 1 -0.404 1 0 Z","filled":false,"color":"#d42a2a","strokeWidth":1,"size":1681,"angle":-10,"opacity":1},"encoding":{"x":{"aggregate":"mean","field":"x7","type":"quantitative","axis":null},"y":{"aggregate":"mean","field":"x5","type":"quantitative","axis":null}}}]},
{"width":82,"height":62,"data":{"name":"obs"},"encoding":{"x":{"field":"y","type":"quantitative","scale":{"domain":[-1208,5079],"nice":false,"zero":false},"axis":null},"y":{"field":"x5","type":"quantitative","scale":{"domain":[-246,692],"nice":false,"zero":false},"axis":{"orient":"right","values":[-115,0,115,230,345,460,575,690],"format":"d","labelExpr":"abs(datum.value/230-round(datum.value/230))<0.01 ? datum.label : ''","tickSize":{"condition":{"test":"abs(datum.value/230-round(datum.value/230))<0.01","value":4},"value":2},"labelAlign":"left","labelBaseline":"middle","title":null}}},"layer":[
{"mark":{"type":"point","shape":"square","filled":true,"size":14,"color":"#2875dc","opacity":1},"encoding":{}},
{"transform":[{"regression":"x5","on":"y"}],"mark":{"type":"line","color":"#e0352b","strokeWidth":1},"encoding":{}},
{"mark":{"type":"point","shape":"M 1 0 C 1 0.259 0.5523 0.469 0 0.469 C -0.5523 0.469 -1 0.259 -1 0 C -1 -0.259 -0.5523 -0.469 0 -0.469 C 0.5523 -0.469 1 -0.259 1 0 Z","filled":false,"color":"#d42a2a","strokeWidth":1,"size":4096,"angle":0,"opacity":1},"encoding":{"x":{"aggregate":"mean","field":"y","type":"quantitative","axis":null},"y":{"aggregate":"mean","field":"x5","type":"quantitative","axis":{"orient":"right","values":[-115,0,115,230,345,460,575,690],"format":"d","labelExpr":"abs(datum.value/230-round(datum.value/230))<0.01 ? datum.label : ''","tickSize":{"condition":{"test":"abs(datum.value/230-round(datum.value/230))<0.01","value":4},"value":2},"labelAlign":"left","labelBaseline":"middle","title":null}}}}]},

{"width":82,"height":62,"data":{"values":[{"mic":0.517,"label":"MIC=0.517"}]},"layer":[{"mark":{"type":"rect","stroke":"#444","strokeWidth":1},"encoding":{"x":{"datum":0,"type":"quantitative","scale":{"domain":[0,1],"nice":false},"axis":null},"x2":{"datum":1},"y":{"datum":0,"type":"quantitative","scale":{"domain":[0,1],"nice":false},"axis":null},"y2":{"datum":1},"color":{"field":"mic","type":"quantitative","scale":{"domain":[0.2,0.6,1.0],"range":["#0000ff","#ffffff","#ff0000"],"interpolate":"rgb"},"legend":null}}},{"mark":{"type":"text","font":"Liberation Sans","fontSize":12,"color":"#1a1a1a"},"encoding":{"x":{"datum":0.5,"type":"quantitative","axis":null},"y":{"datum":0.5,"type":"quantitative","axis":null},"text":{"field":"label"}}}]},
{"width":82,"height":62,"data":{"values":[{"mic":0.549,"label":"MIC=0.549"}]},"layer":[{"mark":{"type":"rect","stroke":"#444","strokeWidth":1},"encoding":{"x":{"datum":0,"type":"quantitative","scale":{"domain":[0,1],"nice":false},"axis":null},"x2":{"datum":1},"y":{"datum":0,"type":"quantitative","scale":{"domain":[0,1],"nice":false},"axis":null},"y2":{"datum":1},"color":{"field":"mic","type":"quantitative","scale":{"domain":[0.2,0.6,1.0],"range":["#0000ff","#ffffff","#ff0000"],"interpolate":"rgb"},"legend":null}}},{"mark":{"type":"text","font":"Liberation Sans","fontSize":12,"color":"#1a1a1a"},"encoding":{"x":{"datum":0.5,"type":"quantitative","axis":null},"y":{"datum":0.5,"type":"quantitative","axis":null},"text":{"field":"label"}}}]},
{"width":82,"height":62,"data":{"values":[{"mic":0.471,"label":"MIC=0.471"}]},"layer":[{"mark":{"type":"rect","stroke":"#444","strokeWidth":1},"encoding":{"x":{"datum":0,"type":"quantitative","scale":{"domain":[0,1],"nice":false},"axis":null},"x2":{"datum":1},"y":{"datum":0,"type":"quantitative","scale":{"domain":[0,1],"nice":false},"axis":null},"y2":{"datum":1},"color":{"field":"mic","type":"quantitative","scale":{"domain":[0.2,0.6,1.0],"range":["#0000ff","#ffffff","#ff0000"],"interpolate":"rgb"},"legend":null}}},{"mark":{"type":"text","font":"Liberation Sans","fontSize":12,"color":"#1a1a1a"},"encoding":{"x":{"datum":0.5,"type":"quantitative","axis":null},"y":{"datum":0.5,"type":"quantitative","axis":null},"text":{"field":"label"}}}]},
{"width":82,"height":62,"data":{"values":[{"mic":0.272,"label":"MIC=0.272"}]},"layer":[{"mark":{"type":"rect","stroke":"#444","strokeWidth":1},"encoding":{"x":{"datum":0,"type":"quantitative","scale":{"domain":[0,1],"nice":false},"axis":null},"x2":{"datum":1},"y":{"datum":0,"type":"quantitative","scale":{"domain":[0,1],"nice":false},"axis":null},"y2":{"datum":1},"color":{"field":"mic","type":"quantitative","scale":{"domain":[0.2,0.6,1.0],"range":["#0000ff","#ffffff","#ff0000"],"interpolate":"rgb"},"legend":null}}},{"mark":{"type":"text","font":"Liberation Sans","fontSize":12,"color":"#1a1a1a"},"encoding":{"x":{"datum":0.5,"type":"quantitative","axis":null},"y":{"datum":0.5,"type":"quantitative","axis":null},"text":{"field":"label"}}}]},
{"width":82,"height":62,"data":{"values":[{"mic":0.353,"label":"MIC=0.353"}]},"layer":[{"mark":{"type":"rect","stroke":"#444","strokeWidth":1},"encoding":{"x":{"datum":0,"type":"quantitative","scale":{"domain":[0,1],"nice":false},"axis":null},"x2":{"datum":1},"y":{"datum":0,"type":"quantitative","scale":{"domain":[0,1],"nice":false},"axis":null},"y2":{"datum":1},"color":{"field":"mic","type":"quantitative","scale":{"domain":[0.2,0.6,1.0],"range":["#0000ff","#ffffff","#ff0000"],"interpolate":"rgb"},"legend":null}}},{"mark":{"type":"text","font":"Liberation Sans","fontSize":12,"color":"#1a1a1a"},"encoding":{"x":{"datum":0.5,"type":"quantitative","axis":null},"y":{"datum":0.5,"type":"quantitative","axis":null},"text":{"field":"label"}}}]},
{"width":82,"height":62,"data":{"name":"obs"},"title":{"text":"x6","anchor":"end","frame":"group","offset":-15,"fontSize":12,"fontWeight":"normal","font":"Liberation Sans","color":"#111","dx":-2},"layer":[
{"mark":{"type":"bar","color":"#6a9bd1","stroke":"#4d4d4d","strokeWidth":0.6},"encoding":{"y":{"field":"x6","type":"quantitative","bin":{"extent":[0,600],"step":100,"nice":false},"scale":{"domain":[-246,692],"nice":false,"zero":false},"axis":null},"x":{"aggregate":"count","type":"quantitative","scale":{"domain":[-75,112],"reverse":true,"nice":false,"zero":false},"axis":null}}},
{"data":{"values":[{}]},"mark":{"type":"rule","color":"#333","strokeWidth":1.2},"encoding":{"x":{"datum":0,"type":"quantitative"},"y":{"datum":0,"type":"quantitative"},"y2":{"datum":600}}}]},
{"width":82,"height":62,"data":{"name":"obs"},"encoding":{"x":{"field":"x7","type":"quantitative","scale":{"domain":[-246,692],"nice":false,"zero":false},"axis":null},"y":{"field":"x6","type":"quantitative","scale":{"domain":[-246,692],"nice":false,"zero":false},"axis":null}},"layer":[
{"mark":{"type":"point","shape":"square","filled":true,"size":14,"color":"#2875dc","opacity":1},"encoding":{}},
{"transform":[{"regression":"x6","on":"x7"}],"mark":{"type":"line","color":"#e0352b","strokeWidth":1},"encoding":{}},
{"mark":{"type":"point","shape":"M 1 0 C 1 0.276 0.5523 0.5 0 0.5 C -0.5523 0.5 -1 0.276 -1 0 C -1 -0.276 -0.5523 -0.5 0 -0.5 C 0.5523 -0.5 1 -0.276 1 0 Z","filled":false,"color":"#d42a2a","strokeWidth":1,"size":2116,"angle":-35,"opacity":1},"encoding":{"x":{"aggregate":"mean","field":"x7","type":"quantitative","axis":null},"y":{"aggregate":"mean","field":"x6","type":"quantitative","axis":null}}}]},
{"width":82,"height":62,"data":{"name":"obs"},"encoding":{"x":{"field":"y","type":"quantitative","scale":{"domain":[-1208,5079],"nice":false,"zero":false},"axis":null},"y":{"field":"x6","type":"quantitative","scale":{"domain":[-246,692],"nice":false,"zero":false},"axis":{"orient":"right","values":[-115,0,115,230,345,460,575,690],"format":"d","labelExpr":"abs(datum.value/230-round(datum.value/230))<0.01 ? datum.label : ''","tickSize":{"condition":{"test":"abs(datum.value/230-round(datum.value/230))<0.01","value":4},"value":2},"labelAlign":"left","labelBaseline":"middle","title":null}}},"layer":[
{"mark":{"type":"point","shape":"square","filled":true,"size":14,"color":"#2875dc","opacity":1},"encoding":{}},
{"transform":[{"regression":"x6","on":"y"}],"mark":{"type":"line","color":"#e0352b","strokeWidth":1},"encoding":{}},
{"mark":{"type":"point","shape":"M 1 0 C 1 0.276 0.5523 0.5 0 0.5 C -0.5523 0.5 -1 0.276 -1 0 C -1 -0.276 -0.5523 -0.5 0 -0.5 C 0.5523 -0.5 1 -0.276 1 0 Z","filled":false,"color":"#d42a2a","strokeWidth":1,"size":4096,"angle":0,"opacity":1},"encoding":{"x":{"aggregate":"mean","field":"y","type":"quantitative","axis":null},"y":{"aggregate":"mean","field":"x6","type":"quantitative","axis":{"orient":"right","values":[-115,0,115,230,345,460,575,690],"format":"d","labelExpr":"abs(datum.value/230-round(datum.value/230))<0.01 ? datum.label : ''","tickSize":{"condition":{"test":"abs(datum.value/230-round(datum.value/230))<0.01","value":4},"value":2},"labelAlign":"left","labelBaseline":"middle","title":null}}}}]},

{"width":82,"height":62,"data":{"values":[{"mic":0.493,"label":"MIC=0.493"}]},"layer":[{"mark":{"type":"rect","stroke":"#444","strokeWidth":1},"encoding":{"x":{"datum":0,"type":"quantitative","scale":{"domain":[0,1],"nice":false},"axis":null},"x2":{"datum":1},"y":{"datum":0,"type":"quantitative","scale":{"domain":[0,1],"nice":false},"axis":null},"y2":{"datum":1},"color":{"field":"mic","type":"quantitative","scale":{"domain":[0.2,0.6,1.0],"range":["#0000ff","#ffffff","#ff0000"],"interpolate":"rgb"},"legend":null}}},{"mark":{"type":"text","font":"Liberation Sans","fontSize":12,"color":"#1a1a1a"},"encoding":{"x":{"datum":0.5,"type":"quantitative","axis":null},"y":{"datum":0.5,"type":"quantitative","axis":null},"text":{"field":"label"}}}]},
{"width":82,"height":62,"data":{"values":[{"mic":0.504,"label":"MIC=0.504"}]},"layer":[{"mark":{"type":"rect","stroke":"#444","strokeWidth":1},"encoding":{"x":{"datum":0,"type":"quantitative","scale":{"domain":[0,1],"nice":false},"axis":null},"x2":{"datum":1},"y":{"datum":0,"type":"quantitative","scale":{"domain":[0,1],"nice":false},"axis":null},"y2":{"datum":1},"color":{"field":"mic","type":"quantitative","scale":{"domain":[0.2,0.6,1.0],"range":["#0000ff","#ffffff","#ff0000"],"interpolate":"rgb"},"legend":null}}},{"mark":{"type":"text","font":"Liberation Sans","fontSize":12,"color":"#1a1a1a"},"encoding":{"x":{"datum":0.5,"type":"quantitative","axis":null},"y":{"datum":0.5,"type":"quantitative","axis":null},"text":{"field":"label"}}}]},
{"width":82,"height":62,"data":{"values":[{"mic":0.374,"label":"MIC=0.374"}]},"layer":[{"mark":{"type":"rect","stroke":"#444","strokeWidth":1},"encoding":{"x":{"datum":0,"type":"quantitative","scale":{"domain":[0,1],"nice":false},"axis":null},"x2":{"datum":1},"y":{"datum":0,"type":"quantitative","scale":{"domain":[0,1],"nice":false},"axis":null},"y2":{"datum":1},"color":{"field":"mic","type":"quantitative","scale":{"domain":[0.2,0.6,1.0],"range":["#0000ff","#ffffff","#ff0000"],"interpolate":"rgb"},"legend":null}}},{"mark":{"type":"text","font":"Liberation Sans","fontSize":12,"color":"#1a1a1a"},"encoding":{"x":{"datum":0.5,"type":"quantitative","axis":null},"y":{"datum":0.5,"type":"quantitative","axis":null},"text":{"field":"label"}}}]},
{"width":82,"height":62,"data":{"values":[{"mic":0.372,"label":"MIC=0.372"}]},"layer":[{"mark":{"type":"rect","stroke":"#444","strokeWidth":1},"encoding":{"x":{"datum":0,"type":"quantitative","scale":{"domain":[0,1],"nice":false},"axis":null},"x2":{"datum":1},"y":{"datum":0,"type":"quantitative","scale":{"domain":[0,1],"nice":false},"axis":null},"y2":{"datum":1},"color":{"field":"mic","type":"quantitative","scale":{"domain":[0.2,0.6,1.0],"range":["#0000ff","#ffffff","#ff0000"],"interpolate":"rgb"},"legend":null}}},{"mark":{"type":"text","font":"Liberation Sans","fontSize":12,"color":"#1a1a1a"},"encoding":{"x":{"datum":0.5,"type":"quantitative","axis":null},"y":{"datum":0.5,"type":"quantitative","axis":null},"text":{"field":"label"}}}]},
{"width":82,"height":62,"data":{"values":[{"mic":0.427,"label":"MIC=0.427"}]},"layer":[{"mark":{"type":"rect","stroke":"#444","strokeWidth":1},"encoding":{"x":{"datum":0,"type":"quantitative","scale":{"domain":[0,1],"nice":false},"axis":null},"x2":{"datum":1},"y":{"datum":0,"type":"quantitative","scale":{"domain":[0,1],"nice":false},"axis":null},"y2":{"datum":1},"color":{"field":"mic","type":"quantitative","scale":{"domain":[0.2,0.6,1.0],"range":["#0000ff","#ffffff","#ff0000"],"interpolate":"rgb"},"legend":null}}},{"mark":{"type":"text","font":"Liberation Sans","fontSize":12,"color":"#1a1a1a"},"encoding":{"x":{"datum":0.5,"type":"quantitative","axis":null},"y":{"datum":0.5,"type":"quantitative","axis":null},"text":{"field":"label"}}}]},
{"width":82,"height":62,"data":{"values":[{"mic":0.318,"label":"MIC=0.318"}]},"layer":[{"mark":{"type":"rect","stroke":"#444","strokeWidth":1},"encoding":{"x":{"datum":0,"type":"quantitative","scale":{"domain":[0,1],"nice":false},"axis":null},"x2":{"datum":1},"y":{"datum":0,"type":"quantitative","scale":{"domain":[0,1],"nice":false},"axis":null},"y2":{"datum":1},"color":{"field":"mic","type":"quantitative","scale":{"domain":[0.2,0.6,1.0],"range":["#0000ff","#ffffff","#ff0000"],"interpolate":"rgb"},"legend":null}}},{"mark":{"type":"text","font":"Liberation Sans","fontSize":12,"color":"#1a1a1a"},"encoding":{"x":{"datum":0.5,"type":"quantitative","axis":null},"y":{"datum":0.5,"type":"quantitative","axis":null},"text":{"field":"label"}}}]},
{"width":82,"height":62,"data":{"name":"obs"},"title":{"text":"x7","anchor":"end","frame":"group","offset":-15,"fontSize":12,"fontWeight":"normal","font":"Liberation Sans","color":"#111","dx":-2},"layer":[
{"mark":{"type":"bar","color":"#6a9bd1","stroke":"#4d4d4d","strokeWidth":0.6},"encoding":{"y":{"field":"x7","type":"quantitative","bin":{"extent":[0,600],"step":100,"nice":false},"scale":{"domain":[-246,692],"nice":false,"zero":false},"axis":null},"x":{"aggregate":"count","type":"quantitative","scale":{"domain":[-78,117],"reverse":true,"nice":false,"zero":false},"axis":null}}},
{"data":{"values":[{}]},"mark":{"type":"rule","color":"#333","strokeWidth":1.2},"encoding":{"x":{"datum":0,"type":"quantitative"},"y":{"datum":0,"type":"quantitative"},"y2":{"datum":600}}}]},
{"width":82,"height":62,"data":{"name":"obs"},"encoding":{"x":{"field":"y","type":"quantitative","scale":{"domain":[-1208,5079],"nice":false,"zero":false},"axis":null},"y":{"field":"x7","type":"quantitative","scale":{"domain":[-246,692],"nice":false,"zero":false},"axis":{"orient":"right","values":[-115,0,115,230,345,460,575,690],"format":"d","labelExpr":"abs(datum.value/230-round(datum.value/230))<0.01 ? datum.label : ''","tickSize":{"condition":{"test":"abs(datum.value/230-round(datum.value/230))<0.01","value":4},"value":2},"labelAlign":"left","labelBaseline":"middle","title":null}}},"layer":[
{"mark":{"type":"point","shape":"square","filled":true,"size":14,"color":"#2875dc","opacity":1},"encoding":{}},
{"transform":[{"regression":"x7","on":"y"}],"mark":{"type":"line","color":"#e0352b","strokeWidth":1},"encoding":{}},
{"mark":{"type":"point","shape":"M 1 0 C 1 0.276 0.5523 0.5 0 0.5 C -0.5523 0.5 -1 0.276 -1 0 C -1 -0.276 -0.5523 -0.5 0 -0.5 C 0.5523 -0.5 1 -0.276 1 0 Z","filled":false,"color":"#d42a2a","strokeWidth":1,"size":4096,"angle":0,"opacity":1},"encoding":{"x":{"aggregate":"mean","field":"y","type":"quantitative","axis":null},"y":{"aggregate":"mean","field":"x7","type":"quantitative","axis":{"orient":"right","values":[-115,0,115,230,345,460,575,690],"format":"d","labelExpr":"abs(datum.value/230-round(datum.value/230))<0.01 ? datum.label : ''","tickSize":{"condition":{"test":"abs(datum.value/230-round(datum.value/230))<0.01","value":4},"value":2},"labelAlign":"left","labelBaseline":"middle","title":null}}}}]},

{"width":82,"height":62,"data":{"values":[{"mic":0.473,"label":"MIC=0.473"}]},"layer":[{"mark":{"type":"rect","stroke":"#444","strokeWidth":1},"encoding":{"x":{"datum":0,"type":"quantitative","scale":{"domain":[0,1],"nice":false},"axis":null},"x2":{"datum":1},"y":{"datum":0,"type":"quantitative","scale":{"domain":[0,1],"nice":false},"axis":null},"y2":{"datum":1},"color":{"field":"mic","type":"quantitative","scale":{"domain":[0.2,0.6,1.0],"range":["#0000ff","#ffffff","#ff0000"],"interpolate":"rgb"},"legend":null}}},{"mark":{"type":"text","font":"Liberation Sans","fontSize":12,"color":"#1a1a1a"},"encoding":{"x":{"datum":0.5,"type":"quantitative","axis":null},"y":{"datum":0.5,"type":"quantitative","axis":null},"text":{"field":"label"}}}]},
{"width":82,"height":62,"data":{"values":[{"mic":0.537,"label":"MIC=0.537"}]},"layer":[{"mark":{"type":"rect","stroke":"#444","strokeWidth":1},"encoding":{"x":{"datum":0,"type":"quantitative","scale":{"domain":[0,1],"nice":false},"axis":null},"x2":{"datum":1},"y":{"datum":0,"type":"quantitative","scale":{"domain":[0,1],"nice":false},"axis":null},"y2":{"datum":1},"color":{"field":"mic","type":"quantitative","scale":{"domain":[0.2,0.6,1.0],"range":["#0000ff","#ffffff","#ff0000"],"interpolate":"rgb"},"legend":null}}},{"mark":{"type":"text","font":"Liberation Sans","fontSize":12,"color":"#1a1a1a"},"encoding":{"x":{"datum":0.5,"type":"quantitative","axis":null},"y":{"datum":0.5,"type":"quantitative","axis":null},"text":{"field":"label"}}}]},
{"width":82,"height":62,"data":{"values":[{"mic":0.426,"label":"MIC=0.426"}]},"layer":[{"mark":{"type":"rect","stroke":"#444","strokeWidth":1},"encoding":{"x":{"datum":0,"type":"quantitative","scale":{"domain":[0,1],"nice":false},"axis":null},"x2":{"datum":1},"y":{"datum":0,"type":"quantitative","scale":{"domain":[0,1],"nice":false},"axis":null},"y2":{"datum":1},"color":{"field":"mic","type":"quantitative","scale":{"domain":[0.2,0.6,1.0],"range":["#0000ff","#ffffff","#ff0000"],"interpolate":"rgb"},"legend":null}}},{"mark":{"type":"text","font":"Liberation Sans","fontSize":12,"color":"#1a1a1a"},"encoding":{"x":{"datum":0.5,"type":"quantitative","axis":null},"y":{"datum":0.5,"type":"quantitative","axis":null},"text":{"field":"label"}}}]},
{"width":82,"height":62,"data":{"values":[{"mic":0.648,"label":"MIC=0.648"}]},"layer":[{"mark":{"type":"rect","stroke":"#444","strokeWidth":1},"encoding":{"x":{"datum":0,"type":"quantitative","scale":{"domain":[0,1],"nice":false},"axis":null},"x2":{"datum":1},"y":{"datum":0,"type":"quantitative","scale":{"domain":[0,1],"nice":false},"axis":null},"y2":{"datum":1},"color":{"field":"mic","type":"quantitative","scale":{"domain":[0.2,0.6,1.0],"range":["#0000ff","#ffffff","#ff0000"],"interpolate":"rgb"},"legend":null}}},{"mark":{"type":"text","font":"Liberation Sans","fontSize":12,"color":"#1a1a1a"},"encoding":{"x":{"datum":0.5,"type":"quantitative","axis":null},"y":{"datum":0.5,"type":"quantitative","axis":null},"text":{"field":"label"}}}]},
{"width":82,"height":62,"data":{"values":[{"mic":0.391,"label":"MIC=0.391"}]},"layer":[{"mark":{"type":"rect","stroke":"#444","strokeWidth":1},"encoding":{"x":{"datum":0,"type":"quantitative","scale":{"domain":[0,1],"nice":false},"axis":null},"x2":{"datum":1},"y":{"datum":0,"type":"quantitative","scale":{"domain":[0,1],"nice":false},"axis":null},"y2":{"datum":1},"color":{"field":"mic","type":"quantitative","scale":{"domain":[0.2,0.6,1.0],"range":["#0000ff","#ffffff","#ff0000"],"interpolate":"rgb"},"legend":null}}},{"mark":{"type":"text","font":"Liberation Sans","fontSize":12,"color":"#1a1a1a"},"encoding":{"x":{"datum":0.5,"type":"quantitative","axis":null},"y":{"datum":0.5,"type":"quantitative","axis":null},"text":{"field":"label"}}}]},
{"width":82,"height":62,"data":{"values":[{"mic":0.415,"label":"MIC=0.415"}]},"layer":[{"mark":{"type":"rect","stroke":"#444","strokeWidth":1},"encoding":{"x":{"datum":0,"type":"quantitative","scale":{"domain":[0,1],"nice":false},"axis":null},"x2":{"datum":1},"y":{"datum":0,"type":"quantitative","scale":{"domain":[0,1],"nice":false},"axis":null},"y2":{"datum":1},"color":{"field":"mic","type":"quantitative","scale":{"domain":[0.2,0.6,1.0],"range":["#0000ff","#ffffff","#ff0000"],"interpolate":"rgb"},"legend":null}}},{"mark":{"type":"text","font":"Liberation Sans","fontSize":12,"color":"#1a1a1a"},"encoding":{"x":{"datum":0.5,"type":"quantitative","axis":null},"y":{"datum":0.5,"type":"quantitative","axis":null},"text":{"field":"label"}}}]},
{"width":82,"height":62,"data":{"values":[{"mic":0.370,"label":"MIC=0.370"}]},"layer":[{"mark":{"type":"rect","stroke":"#444","strokeWidth":1},"encoding":{"x":{"datum":0,"type":"quantitative","scale":{"domain":[0,1],"nice":false},"axis":null},"x2":{"datum":1},"y":{"datum":0,"type":"quantitative","scale":{"domain":[0,1],"nice":false},"axis":null},"y2":{"datum":1},"color":{"field":"mic","type":"quantitative","scale":{"domain":[0.2,0.6,1.0],"range":["#0000ff","#ffffff","#ff0000"],"interpolate":"rgb"},"legend":null}}},{"mark":{"type":"text","font":"Liberation Sans","fontSize":12,"color":"#1a1a1a"},"encoding":{"x":{"datum":0.5,"type":"quantitative","axis":null},"y":{"datum":0.5,"type":"quantitative","axis":null},"text":{"field":"label"}}}]},
{"width":82,"height":62,"data":{"name":"obs"},"title":{"text":"y","anchor":"end","frame":"group","offset":-15,"fontSize":12,"fontWeight":"normal","font":"Liberation Sans","color":"#111","dx":-2},"layer":[
{"mark":{"type":"bar","color":"#6a9bd1","stroke":"#4d4d4d","strokeWidth":0.6},"encoding":{"y":{"field":"y","type":"quantitative","bin":{"extent":[0,3200],"step":400,"nice":false},"scale":{"domain":[-1208,5079],"nice":false,"zero":false},"axis":{"orient":"right","values":[-800,0,800,1600,2400,3200,4000,4800],"format":"d","labelExpr":"abs(datum.value/1600-round(datum.value/1600))<0.01 ? datum.label : ''","tickSize":{"condition":{"test":"abs(datum.value/1600-round(datum.value/1600))<0.01","value":4},"value":2},"labelAlign":"left","labelBaseline":"middle","title":null}},"x":{"aggregate":"count","type":"quantitative","scale":{"domain":[-22,32.7],"reverse":true,"nice":false,"zero":false},"axis":null}}},
{"data":{"values":[{}]},"mark":{"type":"rule","color":"#333","strokeWidth":1.2},"encoding":{"x":{"datum":0,"type":"quantitative"},"y":{"datum":0,"type":"quantitative"},"y2":{"datum":3200}}}]}
]},
{"width":657,"height":29,"view":{"stroke":null},
"data":{"values":[
{"lo":0.2,"hi":0.22667,"v":0.21333},{"lo":0.22667,"hi":0.25333,"v":0.24},{"lo":0.25333,"hi":0.28,"v":0.26667},{"lo":0.28,"hi":0.30667,"v":0.29333},{"lo":0.30667,"hi":0.33333,"v":0.32},{"lo":0.33333,"hi":0.36,"v":0.34667},{"lo":0.36,"hi":0.38667,"v":0.37333},{"lo":0.38667,"hi":0.41333,"v":0.4},{"lo":0.41333,"hi":0.44,"v":0.42667},{"lo":0.44,"hi":0.46667,"v":0.45333},{"lo":0.46667,"hi":0.49333,"v":0.48},{"lo":0.49333,"hi":0.52,"v":0.50667},{"lo":0.52,"hi":0.54667,"v":0.53333},{"lo":0.54667,"hi":0.57333,"v":0.56},{"lo":0.57333,"hi":0.6,"v":0.58667},{"lo":0.6,"hi":0.62667,"v":0.61333},{"lo":0.62667,"hi":0.65333,"v":0.64},{"lo":0.65333,"hi":0.68,"v":0.66667},{"lo":0.68,"hi":0.70667,"v":0.69333},{"lo":0.70667,"hi":0.73333,"v":0.72},{"lo":0.73333,"hi":0.76,"v":0.74667},{"lo":0.76,"hi":0.78667,"v":0.77333},{"lo":0.78667,"hi":0.81333,"v":0.8},{"lo":0.81333,"hi":0.84,"v":0.82667},{"lo":0.84,"hi":0.86667,"v":0.85333},{"lo":0.86667,"hi":0.89333,"v":0.88},{"lo":0.89333,"hi":0.92,"v":0.90667},{"lo":0.92,"hi":0.94667,"v":0.93333},{"lo":0.94667,"hi":0.97333,"v":0.96},{"lo":0.97333,"hi":1.0,"v":0.98667}
]},
"layer":[
{"mark":{"type":"rect"},
"encoding":{
"x":{"field":"lo","type":"quantitative","scale":{"domain":[0.1657,1.0],"nice":false,"zero":false},"axis":{"orient":"bottom","values":[0.2,0.36,0.52,0.68,0.84,1.0],"format":".2f","tickSize":7,"labelFontSize":12,"labelPadding":2,"title":null,"domain":false}},
"x2":{"field":"hi"},
"y":{"datum":0,"type":"quantitative","scale":{"domain":[0,1],"nice":false},"axis":null},
"y2":{"datum":1},
"color":{"field":"v","type":"quantitative","scale":{"domain":[0.2,0.6,1.0],"range":["#0000ff","#ffffff","#ff0000"],"interpolate":"rgb"},"legend":null}}},
{"data":{"values":[{"lo":0.2,"hi":1.0}]},"mark":{"type":"rect","fillOpacity":0,"stroke":"#333","strokeWidth":1},
"encoding":{"x":{"field":"lo","type":"quantitative"},"x2":{"field":"hi"},"y":{"datum":0,"type":"quantitative"},"y2":{"datum":1}}},
{"data":{"values":[{"name":"MIC","pos":0.179}]},"mark":{"type":"text","font":"Liberation Sans","fontSize":12,"color":"#222"},
"encoding":{"x":{"field":"pos","type":"quantitative"},"y":{"datum":0.5,"type":"quantitative"},"text":{"field":"name"}}}
]}
]
}
